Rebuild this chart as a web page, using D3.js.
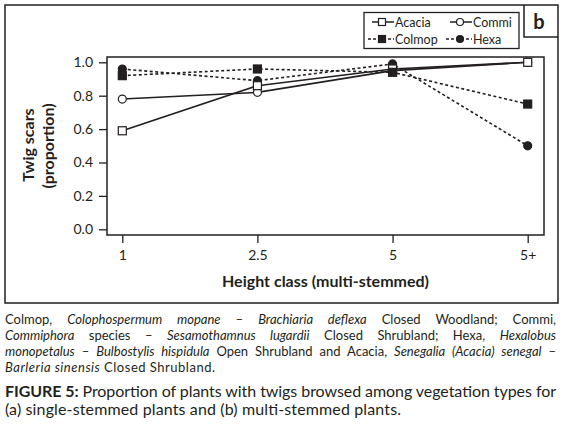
<!DOCTYPE html>
<html>
<head>
<meta charset="utf-8">
<script src="https://cdn.jsdelivr.net/npm/d3@7"></script>
<style>
body { margin: 0; background: #fff; }
svg { display: block; font-family: Lato, "Open Sans", sans-serif; }
</style>
</head>
<body>
<div id="chart"></div>
<script>
// Twig scars by height class, multi-stemmed plants (panel b)
var categories = ["1", "2.5", "5", "5+"];
var acacia = [0.59, 0.86, 0.96, 1.0];
var commi = [0.78, 0.82, 0.95, 1.0];
var colmop = [0.92, 0.96, 0.94, 0.75];
var hexa = [0.96, 0.89, 0.99, 0.50];
var yTicks = [0, 0.2, 0.4, 0.6, 0.8, 1.0];

var ink = "#231f20";

var series = [
  {name: "Hexa", values: hexa, dashed: true, shape: "circle", fill: ink},
  {name: "Commi", values: commi, dashed: false, shape: "circle", fill: "#fff"},
  {name: "Acacia", values: acacia, dashed: false, shape: "square", fill: "#fff"},
  {name: "Colmop", values: colmop, dashed: true, shape: "square", fill: ink}
];

var box = {left: 107, right: 544, top: 57, bottom: 235};

var svg = d3.select("#chart").append("svg")
    .attr("width", 564)
    .attr("height", 427);

// outer frame + panel letter
svg.append("rect")
    .attr("x", 5).attr("y", 5)
    .attr("width", 553).attr("height", 298)
    .attr("fill", "none").attr("stroke", ink).attr("stroke-width", 1.5);

svg.append("path")
    .attr("d", "M524,5V37H558")
    .attr("fill", "none").attr("stroke", ink).attr("stroke-width", 1.5);

svg.append("text")
    .attr("x", 539).attr("y", 29)
    .attr("text-anchor", "middle")
    .style("font-size", "20px").style("font-weight", "bold")
    .attr("fill", ink)
    .text("b");

var x = d3.scalePoint()
    .domain(categories)
    .range([122.3, 527.7]);

var y = d3.scaleLinear()
    .domain([0, 1])
    .range([229.3, 62.3]);

svg.append("rect")
    .attr("x", box.left).attr("y", box.top)
    .attr("width", box.right - box.left).attr("height", box.bottom - box.top)
    .attr("fill", "none").attr("stroke", ink).attr("stroke-width", 1.5);

var yAxis = d3.axisLeft(y)
    .tickValues(yTicks)
    .tickFormat(d3.format(".1f"))
    .tickSize(8)
    .tickPadding(6);

var xAxis = d3.axisBottom(x)
    .tickSize(8)
    .tickPadding(7);

var gy = svg.append("g")
    .attr("transform", "translate(" + box.left + ",0)")
    .call(yAxis);

var gx = svg.append("g")
    .attr("transform", "translate(0," + box.bottom + ")")
    .call(xAxis);

[gx, gy].forEach(function(g) {
  g.select(".domain").remove();
  g.selectAll("line").attr("stroke", ink).attr("stroke-width", 1.3);
  g.selectAll("text")
      .attr("fill", ink)
      .style("font-family", "Lato, sans-serif")
      .style("font-size", "14px");
});

// axis titles
svg.append("text")
    .attr("x", (box.left + box.right) / 2).attr("y", 286.5)
    .attr("text-anchor", "middle")
    .style("font-size", "16px").style("font-weight", "bold")
    .attr("fill", ink)
    .text("Height class (multi-stemmed)");

svg.append("text")
    .attr("transform", "translate(33.5,145) rotate(-90)")
    .attr("text-anchor", "middle")
    .style("font-size", "16px").style("font-weight", "bold")
    .attr("fill", ink)
    .text("Twig scars");

svg.append("text")
    .attr("transform", "translate(54,146) rotate(-90)")
    .attr("text-anchor", "middle")
    .style("font-size", "16px").style("font-weight", "bold")
    .attr("fill", ink)
    .text("(proportion)");

var line = d3.line()
    .x(function(d, i) { return x(categories[i]); })
    .y(function(d) { return y(d); });

svg.selectAll(".series-line")
    .data(series)
  .enter().append("path")
    .attr("class", "series-line")
    .attr("d", function(s) { return line(s.values); })
    .attr("fill", "none")
    .attr("stroke", ink)
    .attr("stroke-width", 1.6)
    .attr("stroke-dasharray", function(s) { return s.dashed ? "3,2.5" : null; });

function marker(g, shape, fill, cx, cy, size) {
  if (shape === "circle") {
    g.append("circle")
        .attr("cx", cx).attr("cy", cy).attr("r", size / 2)
        .attr("fill", fill).attr("stroke", ink).attr("stroke-width", 1.2);
  } else {
    g.append("rect")
        .attr("x", cx - size / 2).attr("y", cy - size / 2)
        .attr("width", size).attr("height", size)
        .attr("fill", fill).attr("stroke", ink).attr("stroke-width", 1.2);
  }
}

var marks = svg.append("g");
series.forEach(function(s) {
  s.values.forEach(function(v, i) {
    marker(marks, s.shape, s.fill, x(categories[i]), y(v), 8);
  });
});

// legend
var legendRows = [
  [{name: "Acacia", s: series[2]}, {name: "Commi", s: series[1]}],
  [{name: "Colmop", s: series[3]}, {name: "Hexa", s: series[0]}]
];
var legend = svg.append("g");
legend.append("rect")
    .attr("x", 364).attr("y", 12.5)
    .attr("width", 155).attr("height", 36)
    .attr("fill", "#fff").attr("stroke", ink).attr("stroke-width", 1.3);

var colX = [368, 446];
var rowY = [22, 39];
legendRows.forEach(function(row, r) {
  row.forEach(function(item, c) {
    var x0 = colX[c] + (item.s.dashed ? 0 : 4), x1 = colX[c] + 26;
    legend.append("line")
        .attr("x1", x0).attr("x2", x1)
        .attr("y1", rowY[r]).attr("y2", rowY[r])
        .attr("stroke", ink).attr("stroke-width", 1.5)
        .attr("stroke-dasharray", item.s.dashed ? "3,2" : null);
    marker(legend, item.s.shape, item.s.fill, colX[c] + 14, rowY[r], 7);
    legend.append("text")
        .attr("x", colX[c] + 27).attr("y", rowY[r] + 4.5)
        .style("font-size", "12.5px")
        .attr("fill", ink)
        .text(item.name);
  });
});

// caption
var captionLines = [
  {y: 324, size: 13, width: 551, justify: true, parts: [
    ["Colmop, ", ""], ["Colophospermum mopane", "i"], [" – ", ""], ["Brachiaria deflexa", "i"], [" Closed Woodland; Commi,", ""]]},
  {y: 340, size: 13, width: 551, justify: true, parts: [
    ["Commiphora", "i"], [" species – ", ""], ["Sesamothamnus lugardii", "i"], [" Closed Shrubland; Hexa, ", ""], ["Hexalobus", "i"]]},
  {y: 356, size: 13, width: 551, justify: true, parts: [
    ["monopetalus", "i"], [" – ", ""], ["Bulbostylis hispidula", "i"], [" Open Shrubland and Acacia, ", ""], ["Senegalia (Acacia) senegal", "i"], [" –", ""]]},
  {y: 371.5, size: 13, width: 210, justify: false, parts: [
    ["Barleria sinensis", "i"], [" Closed Shrubland.", ""]]},
  {y: 397, size: 16, width: 551, justify: true, parts: [
    ["FIGURE 5:", "b"], [" Proportion of plants with twigs browsed among vegetation types for", ""]]},
  {y: 415, size: 16, width: 396, justify: false, parts: [
    ["(a) single-stemmed plants and (b) multi-stemmed plants.", ""]]}
];

captionLines.forEach(function(l) {
  var t = svg.append("text")
      .attr("x", 5).attr("y", l.y)
      .style("font-size", l.size + "px")
      .attr("fill", ink);
  l.parts.forEach(function(p) {
    t.append("tspan")
        .style("font-style", p[1] === "i" ? "italic" : null)
        .style("font-weight", p[1] === "b" ? "bold" : null)
        .text(p[0]);
  });
  var w = t.node().getComputedTextLength();
  var spaces = (t.text().match(/ /g) || []).length;
  if (l.justify && w < l.width && spaces) {
    t.style("word-spacing", ((l.width - w) / spaces) + "px");
  } else {
    t.attr("textLength", l.width).attr("lengthAdjust", "spacing");
  }
});
</script>
</body>
</html>
